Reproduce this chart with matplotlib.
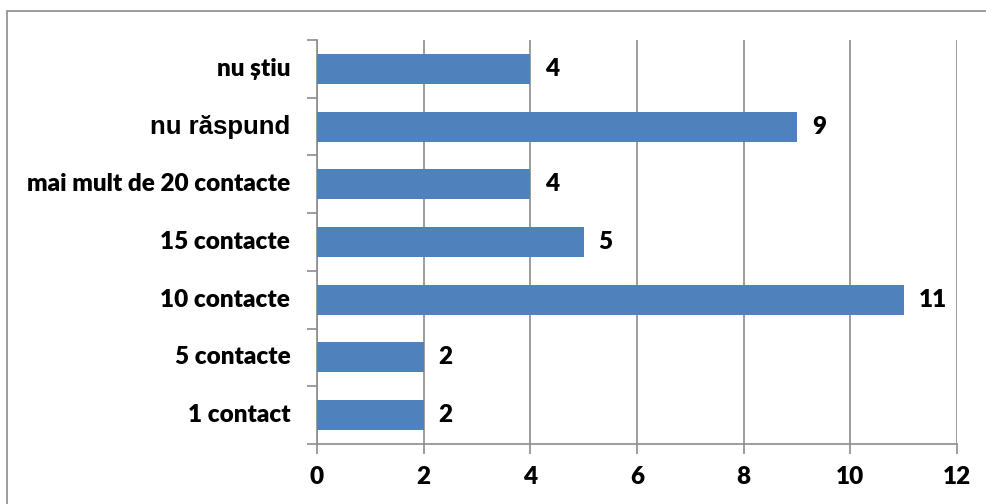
import matplotlib
matplotlib.use("Agg")
import matplotlib.pyplot as plt
from matplotlib.patches import Rectangle

# data, bottom to top
categories = ["1 contact", "5 contacte", "10 contacte", "15 contacte",
              "mai mult de 20 contacte", "nu răspund", "nu știu"]
values = [2, 2, 11, 5, 4, 9, 4]
x_ticks = [0, 2, 4, 6, 8, 10, 12]

bar_color = "#4F81BD"
grid_color = "#8C8C8C"
main_font = ["Lato", "DejaVu Sans"]
weight = "heavy"

fig = plt.figure(figsize=(9.87, 5.04), dpi=100)
ax = fig.add_axes([317 / 987, 1 - 444 / 504, 640 / 987, 404 / 504])

pos = list(range(len(categories)))
ax.barh(pos, values, height=0.52, color=bar_color, zorder=3)

ax.set_xlim(0, 12)
ax.set_ylim(-0.5, len(categories) - 0.5)
ax.set_xticks(x_ticks)
ax.set_xticklabels([str(t) for t in x_ticks], fontsize=17.5, fontweight=weight,
                   family=main_font)
ax.xaxis.grid(True, color=grid_color, linewidth=1.2, zorder=0)

# category labels as text, tick marks at category boundaries
ax.set_yticks([p - 0.5 for p in pos] + [len(pos) - 0.5])
ax.set_yticklabels([])
ax.tick_params(axis="y", length=7, color=grid_color, width=1.2)
ax.tick_params(axis="x", length=7, color=grid_color, width=1.2, pad=9)
for p, name in zip(pos, categories):
    if name == "nu răspund":
        ax.text(-0.5, p, name, ha="right", va="center", fontsize=18.5,
                fontweight="bold", family=["Liberation Sans", "DejaVu Sans"])
    else:
        ax.text(-0.5, p, name, ha="right", va="center", fontsize=17.5,
                fontweight=weight, family=main_font)

for p, v in zip(pos, values):
    ax.text(v + 0.28, p, str(v), ha="left", va="center", fontsize=17.5,
            fontweight=weight, family=main_font)

for side in ["top", "right"]:
    ax.spines[side].set_visible(False)
for side in ["left", "bottom"]:
    ax.spines[side].set_color(grid_color)
    ax.spines[side].set_linewidth(1.2)

# outer chart border
fig.patches.append(Rectangle((7 / 987, -0.01), 1.0, 1 - 11 / 504 + 0.01,
                             transform=fig.transFigure, fill=False,
                             edgecolor="#8C8C8C", linewidth=1.2))

fig.savefig("out.png", dpi=100)
